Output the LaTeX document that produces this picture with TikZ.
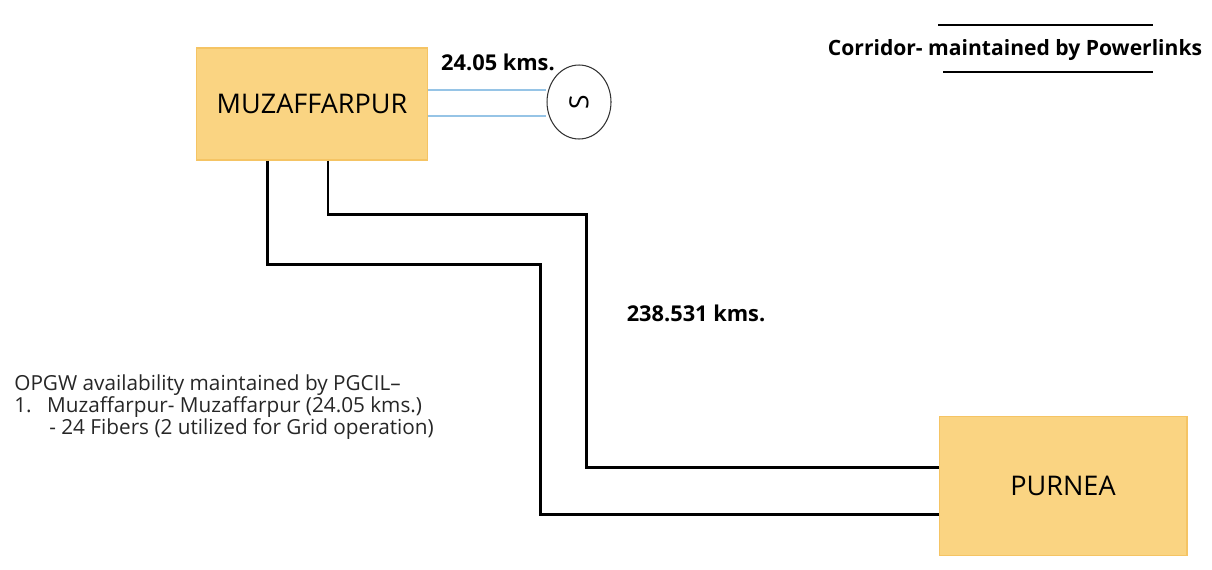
\documentclass[tikz,border=0pt]{standalone}
\usepackage{fontspec}
\setmainfont{Open Sans}
\usetikzlibrary{positioning, shapes.geometric}
\definecolor{stnfill}{RGB}{250,212,130}
\definecolor{stnedge}{RGB}{245,196,100}
\definecolor{fibre}{RGB}{150,196,230}
\colorlet{rule}{black}
\tikzset{
  station/.style ={draw=stnedge, fill=stnfill, line width=0.6pt,
                   inner sep=2pt, align=center,
                   font=\fontsize{15.4}{18}\selectfont},
  splice/.style  ={draw=black!80, ellipse, fill=white, line width=0.6pt,
                   minimum width=1.28cm, minimum height=1.48cm, inner sep=0pt,
                   font=\fontsize{15}{17}\selectfont},
  corridor/.style={-, rule, line width=1.7pt},
  fibreline/.style={-, fibre, line width=1.2pt},
  legline/.style ={-, rule, line width=1.4pt},
  kms/.style     ={font=\bfseries\fontsize{12.4}{14}\selectfont, inner sep=1pt},
  notes/.style   ={font=\fontsize{11.8}{12.5}\selectfont, align=left,
                   inner sep=0pt, text=black!85},
}
\begin{document}
\begin{tikzpicture}[x=0.02cm, y=-0.02cm]
\useasboundingbox (0,0) rectangle (1212,569);

% stations
\node[station, minimum width=4.62cm, minimum height=2.24cm] (MZ) at (312,104) {MUZAFFARPUR};
\node[station, minimum width=4.96cm, minimum height=2.78cm] (PU) at (1063,486) {PURNEA};
\node[splice] (S) at (579,102) {\rotatebox{90}{S}};

% OPGW to splice
\draw[fibreline] ([yshift=0.28cm]MZ.east) -- ([yshift=0.28cm]MZ.east -| S.west);
\draw[fibreline] ([yshift=-0.24cm]MZ.east) -- ([yshift=-0.24cm]MZ.east -| S.west);
\node[kms] (k1) at (498,62) {24.05 kms.};

% corridor, two circuits
\coordinate (b1) at (540,264);
\coordinate (b2) at (586,214);
\draw[corridor] ([xshift=-0.9cm]MZ.south) |- (b1) |- ([yshift=-0.56cm]PU.west);
\draw[corridor] ([xshift=0.32cm]MZ.south) |- (b2) |- ([yshift=0.38cm]PU.west);
\node[kms] (k2) at (696,313) {238.531 kms.};

% legend
\node[kms, font=\bfseries\fontsize{12}{14}\selectfont] (leg) at (1015,50)
  {Corridor- maintained by Powerlinks};
\coordinate (l1a) at (938,25);  \coordinate (l1b) at (1153,25);
\coordinate (l2a) at (943,72);  \coordinate (l2b) at (1153,72);
\draw[legline] (l1a) -- (l1b);
\draw[legline] (l2a) -- (l2b);

% notes
\node[notes, anchor=north west] (nt) at (14,374)
  {OPGW availability maintained by PGCIL--\\
   1.\hspace{0.31cm}Muzaffarpur- Muzaffarpur (24.05 kms.)\\
   \hspace{0.70cm}- 24 Fibers (2 utilized for Grid operation)};

\end{tikzpicture}
\end{document}
